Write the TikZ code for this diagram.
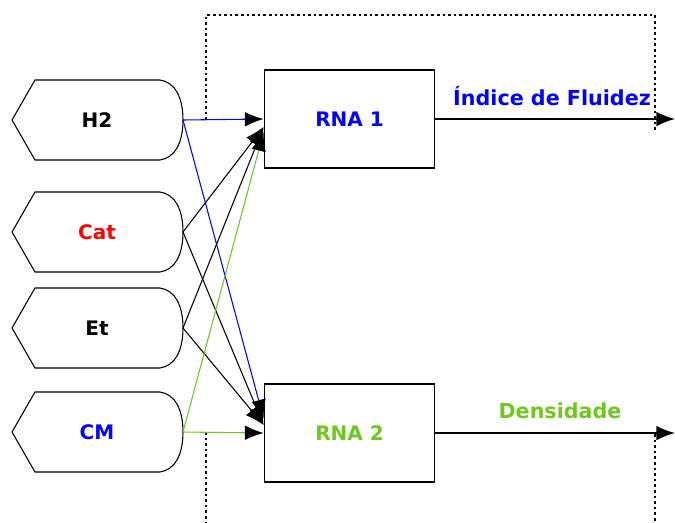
\documentclass[tikz,border=0pt]{standalone}
\usepackage{fontspec}
\setmainfont{DejaVu Sans}
\usetikzlibrary{arrows.meta}

\definecolor{verde}{RGB}{110,200,30}

\begin{document}
\begin{tikzpicture}[x=0.75pt,y=-0.75pt,>={Latex[length=14pt,width=11pt,color=black]},
  entrada/.style={draw,line width=0.8pt},
  rotulo/.style={font=\bfseries\fontsize{15}{17}\selectfont},
  titulo/.style={font=\bfseries\fontsize{15.5}{18}\selectfont},
  rede/.style={draw,line width=0.9pt,minimum width=128pt,minimum height=73.5pt,
    font=\bfseries\fontsize{15}{17}\selectfont},
  ligacao/.style={->,line width=0.8pt},
  saida/.style={->,line width=1.2pt},
  moldura/.style={line width=1pt,dash pattern=on 2pt off 2.2pt}]
  \useasboundingbox (0,0) rectangle (675,522);

  % moldura pontilhada
  \draw[moldura] (206,120) -- (206,15) -- (655,15) -- (655,133);
  \draw[moldura] (206,432) -- (206,522);
  \draw[moldura] (655,434) -- (655,522);

  % entradas
  \foreach \nome/\txt/\cor/\y in {h2/H2/black/120, cat/Cat/red/232, et/Et/black/328, cm/CM/blue/432} {
    \draw[entrada] (12,\y) -- (35,\y-40) -- (160,\y-40)
      .. controls (174,\y-38) and (183,\y-24) .. (183,\y)
      .. controls (183,\y+24) and (174,\y+38) .. (160,\y+40) -- (35,\y+40) -- cycle;
    \node[rotulo,text=\cor] (\nome) at (97,\y) {\txt};
    \coordinate (\nome-s) at (183,\y);
  }

  % redes
  \node[rede,text=blue] (rna1) at (349.5,119) {RNA 1};
  \node[rede,text=verde] (rna2) at (349.5,433) {RNA 2};

  % ligacoes
  \draw[ligacao,blue] (h2-s) -- (rna1.west);
  \draw[ligacao,blue] (h2-s) -- ([yshift=11pt]rna2.west);
  \draw[ligacao] (cat-s) -- ([yshift=-6pt]rna1.west);
  \draw[ligacao] (cat-s) -- ([yshift=6pt]rna2.west);
  \draw[ligacao] (et-s) -- ([yshift=-6pt]rna1.west);
  \draw[ligacao] (et-s) -- ([yshift=6pt]rna2.west);
  \draw[ligacao,verde] (cm-s) -- ([yshift=-10pt]rna1.west);
  \draw[ligacao,verde] (cm-s) -- (rna2.west);

  % saidas
  \coordinate (fim1) at (675,119);
  \coordinate (fim2) at (675,433);
  \draw[saida] (rna1.east) -- (fim1);
  \draw[saida] (rna2.east) -- (fim2);
  \node[titulo,text=blue] (fluidez) at (552,96) {Índice de Fluidez};
  \node[titulo,text=verde] (densidade) at (560,411) {Densidade};
\end{tikzpicture}
\end{document}
